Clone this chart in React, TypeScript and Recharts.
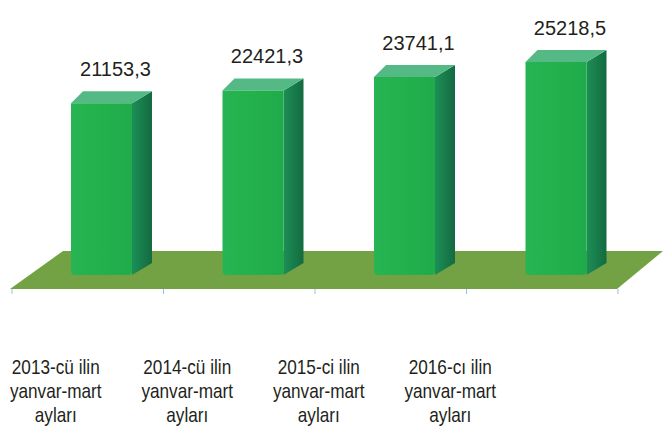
import { BarChart, Bar, XAxis, YAxis, ReferenceLine, LabelList } from 'recharts';

const periods = ['2013-cü ilin', '2014-cü ilin', '2015-ci ilin', '2016-cı ilin'];
const periodSuffix = ['yanvar-mart', 'ayları'];
const values = [21153.3, 22421.3, 23741.1, 25218.5];

const data = periods.map((p, i) => ({ period: p, value: values[i] }));

const FRONT = '#22b14c';
const TOP = '#54b985';
const FLOOR = '#72a243';

const Bar3D = (props: any) => {
  const { x, y, width, height } = props;
  const x1 = x + width;
  const bottom = y + height;
  return (
    <g>
      <polygon points={`${x1},${y} ${x1 + 20},${y - 12} ${x1 + 20},${bottom - 12} ${x1},${bottom}`} fill="url(#sideGrad)" />
      <polygon points={`${x},${y} ${x + 12},${y - 12} ${x1 + 20},${y - 12} ${x1},${y}`} fill={TOP} />
      <path
        d={`M${x},${y} H${x1} V${bottom - 4} Q${x1},${bottom} ${x1 - 4},${bottom} H${x + 4} Q${x},${bottom} ${x},${bottom - 4} Z`}
        fill="url(#frontGrad)"
      />
    </g>
  );
};

const Floor = (props: any) => {
  const { x1, x2, y1 } = props;
  const x = Math.min(x1, x2);
  const xe = Math.max(x1, x2);
  const step = (xe - x) / periods.length;
  return (
    <g>
      <polygon
        points={`${x - 16},${y1 + 14} ${xe - 15},${y1 + 14} ${xe + 31},${y1 - 24} ${x + 37},${y1 - 24}`}
        fill={FLOOR}
      />
      {[0, 1, 2, 3, 4].map((i) => (
        <line key={i} x1={x - 14 + i * step} x2={x - 14 + i * step} y1={y1 + 14} y2={y1 + 19} stroke="#9cc0e0" strokeWidth={1} />
      ))}
    </g>
  );
};

// the source uses a narrow sans, so squeeze Liberation Sans horizontally
const PeriodTick = (props: any) => {
  const { x, y, payload } = props;
  return (
    <g transform={`translate(${x},${y + 69}) scale(0.86,1)`}>
      <text x={0} y={0} textAnchor="middle" fill="#231f20" fontSize={20} fontFamily="'Liberation Sans', Arial, sans-serif">
        <tspan x={0}>{payload.value}</tspan>
        {periodSuffix.map((s, i) => (
          <tspan key={i} x={0} dy={24}>{s}</tspan>
        ))}
      </text>
    </g>
  );
};

const ValueLabel = (props: any) => {
  const { x, y, width, value } = props;
  return (
    <text x={x + width / 2 + 14} y={y - 27} textAnchor="middle" fill="#231f20" fontSize={20} fontFamily="'Liberation Sans', Arial, sans-serif">
      {Number(value).toFixed(1).replace('.', ',')}
    </text>
  );
};

const App = () => {
  return (
    <div style={{ position: 'absolute', left: 0, top: 0, background: '#fff' }}>
      <BarChart width={663} height={427} data={data} margin={{ top: 40, right: 31, left: 26, bottom: 122 }}>
        <defs>
          <linearGradient id="sideGrad" x1="0" y1="0" x2="1" y2="0">
            <stop offset="0%" stopColor="#1c8f56" />
            <stop offset="100%" stopColor="#146a40" />
          </linearGradient>
          <linearGradient id="frontGrad" x1="0" y1="0" x2="1" y2="0">
            <stop offset="0%" stopColor="#27b453" />
            <stop offset="50%" stopColor={FRONT} />
            <stop offset="100%" stopColor="#20ab4a" />
          </linearGradient>
        </defs>
        <XAxis dataKey="period" hide />
        <XAxis
          xAxisId="lbl"
          dataKey="period"
          axisLine={false}
          tickLine={false}
          tickSize={0}
          tickMargin={0}
          height={30}
          padding={{ left: -36, right: 116 }}
          tick={<PeriodTick />}
          interval={0}
        />
        <YAxis hide domain={[4260, 27390]} />
        <ReferenceLine y={4260} shape={<Floor />} zIndex={-1} ifOverflow="visible" />
        <Bar dataKey="value" barSize={61} shape={<Bar3D />} isAnimationActive={false}>
          <LabelList dataKey="value" content={<ValueLabel />} />
        </Bar>
      </BarChart>
    </div>
  );
};

export default App;
